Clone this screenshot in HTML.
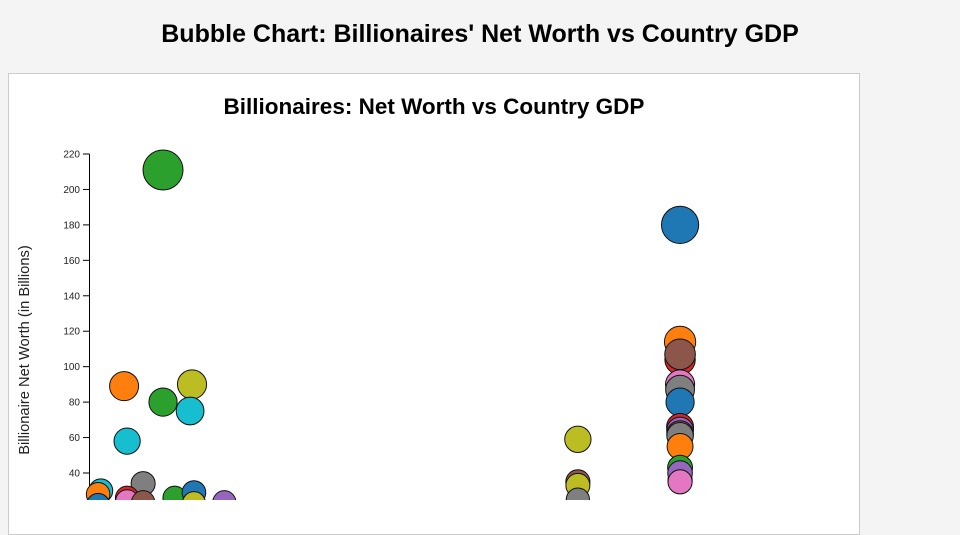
<!DOCTYPE html>
<html><head><meta charset="utf-8">
<style>
html,body{margin:0;padding:0;width:960px;height:500px;overflow:hidden;background:#f4f4f4;font-family:"Liberation Sans",sans-serif;}
h1{position:absolute;left:0;width:960px;top:20px;margin:0;text-align:center;font-size:25px;font-weight:bold;color:#000;}
#panel{position:absolute;left:8px;top:73px;width:850px;height:460px;background:#fff;border:1px solid #ccc;}
svg{position:absolute;left:0;top:0;}
</style></head>
<body>
<h1>Bubble Chart: Billionaires' Net Worth vs Country GDP</h1>
<div id="panel"></div>
<svg id="chart" width="960" height="500"></svg>
<script>
const yTicks=[40,60,80,100,120,140,160,180,200,220];
const gdp=[2.68,1.27,2.68,3.73,3.66,1.38,0.43,0.33,1.96,1.38,1.38,1.96,3.1,3.8,3.8,4.9,0.33,
 17.7,17.7,17.7,17.7,
 21.4,21.4,21.4,21.4,21.4,21.4,21.4,21.4,21.4,21.4,21.4,21.4,21.4,21.4,21.4,21.4];
const netWorth=[211,89,80,90,75,58,30,28,34,26,24,23.5,26,29,23,23.5,22,
 59,35,33,25,
 180,114,104,107,90,87,80,66,64,62,61,36,55,43,40,35];
const colors=["#2ca02c","#ff7f0e","#2ca02c","#bcbd22","#17becf","#17becf","#17becf","#ff7f0e","#7f7f7f","#d62728","#e377c2","#8c564b","#2ca02c","#1f77b4","#bcbd22","#9467bd","#1f77b4",
 "#bcbd22","#8c564b","#bcbd22","#7f7f7f",
 "#1f77b4","#ff7f0e","#d62728","#8c564b","#e377c2","#7f7f7f","#1f77b4","#d62728","#9467bd","#8c564b","#7f7f7f","#d62728","#ff7f0e","#2ca02c","#9467bd","#e377c2"];
const NS="http://www.w3.org/2000/svg";
const svg=document.getElementById('chart');
function x(v){return 89+v*27.62;}
function y(v){return 473-(v-40)*1.7722;}
function r(v){return 10.5+v*0.045;}
function el(t,a){const e=document.createElementNS(NS,t);for(const k in a)e.setAttribute(k,a[k]);svg.appendChild(e);return e;}
const t=el('text',{x:434,y:114,'text-anchor':'middle','font-size':22.5,'font-weight':'bold'});
t.textContent='Billionaires: Net Worth vs Country GDP';


const yt=el('text',{x:0,y:0,transform:'translate(29,350) rotate(-90)','text-anchor':'middle','font-size':14.7,fill:'#222'});
yt.textContent='Billionaire Net Worth (in Billions)';


const ax=el('line',{x1:89.5,x2:89.5,y1:y(220),y2:520,stroke:'#000','stroke-width':1});


yTicks.forEach(v=>{
 const tk=el('line',{x1:83,x2:89.5,y1:y(v),y2:y(v),stroke:'#000'});
 
 
 const lb=el('text',{x:80,y:y(v)+3.5,'text-anchor':'end','font-size':10,fill:'#222'});
 lb.textContent=v;
 
 
});
gdp.forEach((g,i)=>{
 const c=el('circle',{cx:x(g),cy:y(netWorth[i]),r:r(netWorth[i]),fill:colors[i],stroke:'#111','stroke-width':1});
 
 
});
</script>
</body></html>
